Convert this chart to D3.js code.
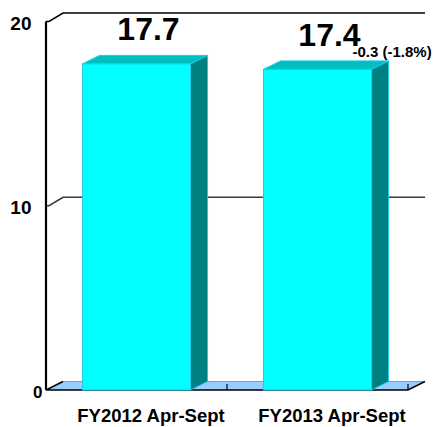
<!DOCTYPE html>
<html><head><meta charset="utf-8">
<script src="https://cdn.jsdelivr.net/npm/d3@7"></script>
<style>html,body{margin:0;padding:0;background:#fff;}svg{display:block;}</style>
</head><body>
<script>
const categories = ["FY2012 Apr-Sept", "FY2013 Apr-Sept"];
const values = [17.7, 17.4];
const valueLabels = ["17.7", "17.4"];
const changeLabel = "-0.3 (-1.8%)";
const yTicks = [0, 10, 20];

const W = 436, H = 427;
const FONT = "'Liberation Sans', Arial, Helvetica, sans-serif";
const DX = 17, DY = -8.5;

const svg = d3.select("body").append("svg").attr("width", W).attr("height", H);

const x = d3.scaleBand().domain(categories).range([46, 408])
  .paddingInner(0.403).paddingOuter(0.2015);
const y = d3.scaleLinear().domain([0, 20]).range([390, 21.5]);
const step = x.step();
const x0 = 46, x1 = 408;

// floor
const y0 = y(0);
svg.append("polygon")
  .attr("points", [[x0, y0], [x1, y0], [x1 + DX, y0 + DY], [x0 + DX, y0 + DY]].map(p => p.join(",")).join(" "))
  .attr("fill", "#99ccff").attr("stroke", "none");
svg.append("line").attr("x1", x0 + DX).attr("y1", y0 + DY).attr("x2", x1 + DX).attr("y2", y0 + DY)
  .attr("stroke", "#6f9fd6").attr("stroke-width", 1);
svg.append("path")
  .attr("d", `M${x0 + DX},${y0 + DY}L${x0},${y0}L${x1},${y0}L${x1 + DX},${y0 + DY}`)
  .attr("fill", "none").attr("stroke", "#000").attr("stroke-width", 1.5);
// category ticks on the floor front edge
categories.forEach((c, i) => {
  const tx = x0 + step * (i + 1);
  svg.append("line").attr("x1", tx).attr("x2", tx).attr("y1", y0).attr("y2", y0 - 6)
    .attr("stroke", "#000").attr("stroke-width", 1.2);
});

// back wall gridlines (non-zero ticks)
yTicks.filter(t => t > 0).forEach(t => {
  const yy = y(t);
  const top = t === d3.max(yTicks);
  svg.append("path")
    .attr("d", `M${x0},${yy}L${x0 + 3},${yy}L${x0 + DX},${yy + DY}L${x1 + DX},${yy + DY}`)
    .attr("fill", "none")
    .attr("stroke", top ? "#000" : "#3a3a3a")
    .attr("stroke-width", top ? 1.5 : 1.6);
});

// y axis line
svg.append("line").attr("x1", x0).attr("x2", x0).attr("y1", y(20)).attr("y2", y0)
  .attr("stroke", "#000").attr("stroke-width", 2.2);

// y tick labels
svg.selectAll("text.ytick").data(yTicks).enter().append("text")
  .attr("class", "ytick")
  .attr("x", d => d === 0 ? 42.5 : 31.5)
  .attr("y", d => y(d) + (d === 0 ? 8 : 8.7))
  .attr("text-anchor", "end")
  .attr("font-family", FONT).attr("font-weight", "bold")
  .attr("font-size", d => d === 0 ? 17 : 19)
  .attr("fill", "#000")
  .text(d => d);

// bars
const bw = x.bandwidth();
const bars = svg.selectAll("g.bar").data(values).enter().append("g").attr("class", "bar");
bars.each(function (v, i) {
  const g = d3.select(this);
  const bx = x(categories[i]);
  const top = y(v);
  const edge = "#1fc8f0";
  g.append("polygon")
    .attr("points", [[bx + bw, top], [bx + bw + DX, top + DY], [bx + bw + DX, y0 + DY], [bx + bw, y0]].map(p => p.join(",")).join(" "))
    .attr("fill", "#008080").attr("stroke", edge).attr("stroke-width", 1);
  g.append("polygon")
    .attr("points", [[bx, top], [bx + DX, top + DY], [bx + bw + DX, top + DY], [bx + bw, top]].map(p => p.join(",")).join(" "))
    .attr("fill", "#00bfbf").attr("stroke", edge).attr("stroke-width", 1);
  g.append("rect")
    .attr("x", bx).attr("y", top).attr("width", bw).attr("height", y0 - top)
    .attr("fill", "#00ffff").attr("stroke", edge).attr("stroke-width", 1);
});

// value labels
svg.selectAll("text.val").data(values).enter().append("text")
  .attr("class", "val")
  .attr("x", (v, i) => x(categories[i]) + bw / 2 + 12)
  .attr("y", v => y(v) - 23.5)
  .attr("text-anchor", "middle")
  .attr("font-family", FONT).attr("font-weight", "bold").attr("font-size", 32)
  .attr("fill", "#000")
  .text((v, i) => valueLabels[i]);

// change label next to last value
const li = values.length - 1;
svg.append("text")
  .attr("x", x(categories[li]) + bw / 2 + 35)
  .attr("y", y(values[li]) - 12.5)
  .attr("text-anchor", "start")
  .attr("font-family", FONT).attr("font-weight", "bold").attr("font-size", 15)
  .attr("fill", "#000")
  .text(changeLabel);

// category labels
svg.selectAll("text.cat").data(categories).enter().append("text")
  .attr("class", "cat")
  .attr("x", d => x(d) + bw / 2 + 14.5)
  .attr("y", 422)
  .attr("text-anchor", "middle")
  .attr("font-family", FONT).attr("font-weight", "bold").attr("font-size", 18.5)
  .attr("fill", "#000")
  .text(d => d);
</script>
</body></html>
